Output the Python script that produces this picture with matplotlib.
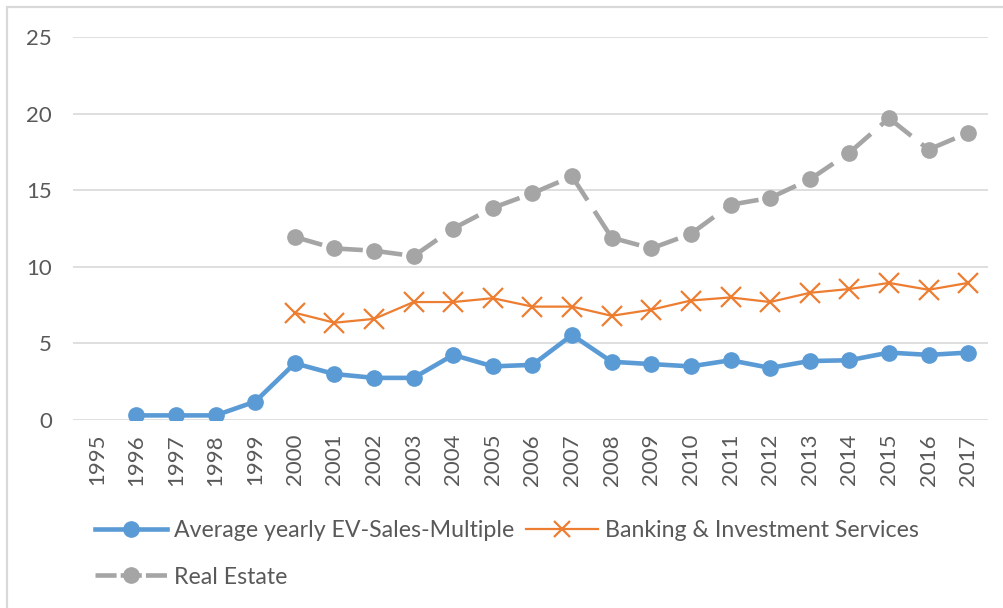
import matplotlib
matplotlib.use("Agg")
import matplotlib.pyplot as plt
from matplotlib.lines import Line2D
from matplotlib.patches import Rectangle
import numpy as np

years = [str(y) for y in range(1995, 2018)]

ev_sales = [np.nan, 0.3, 0.3, 0.3, 1.2, 3.7, 3.0, 2.75, 2.75, 4.25, 3.5, 3.6,
            5.55, 3.8, 3.65, 3.5, 3.9, 3.4, 3.85, 3.9, 4.4, 4.25, 4.4]
banking = [np.nan] * 5 + [7.0, 6.35, 6.6, 7.7, 7.7, 7.95, 7.4, 7.4, 6.8, 7.2,
                          7.8, 8.0, 7.7, 8.3, 8.55, 8.95, 8.5, 8.95]
real_estate = [np.nan] * 5 + [11.95, 11.2, 11.05, 10.7, 12.5, 13.85, 14.8, 15.9,
                              11.9, 11.2, 12.15, 14.05, 14.5, 15.7, 17.45, 19.7,
                              17.65, 18.75]

labels = ["Average yearly EV-Sales-Multiple", "Banking & Investment Services",
          "Real Estate"]

BLUE = "#5B9BD5"
ORANGE = "#ED7D31"
GREY = "#A5A5A5"
TEXT = "#595959"
GRID = "#D9D9D9"

plt.rcParams["font.family"] = ["Lato", "DejaVu Sans"]

fig = plt.figure(figsize=(10.04, 6.08), dpi=100)
ax = fig.add_axes([73 / 1004, 188 / 608, 915 / 1004, 383 / 608])

x = np.arange(len(years))

ax.plot(x, ev_sales, color=BLUE, lw=3.3, marker="o", ms=11, zorder=3)
ax.plot(x, banking, color=ORANGE, lw=1.6, marker="x", ms=15, mew=1.6, zorder=3)

# dashed grey line: restart the dash pattern at every point
re = np.array(real_estate)
for i in range(len(x) - 1):
    if np.isnan(re[i]) or np.isnan(re[i + 1]):
        continue
    ax.plot(x[i:i + 2], re[i:i + 2], color=GREY, lw=3.3,
            dashes=(6.2, 2.8), dash_capstyle="butt", zorder=2)
ax.plot(x, re, color=GREY, lw=0, marker="o", ms=11, zorder=3)

ax.set_xlim(-0.6, 22.5)
ax.set_ylim(0, 25)
ax.set_yticks([0, 5, 10, 15, 20, 25])
ax.set_xticks(x)
ax.set_xticklabels(years, rotation=90)
ax.yaxis.grid(True, color=GRID, lw=1.2)
ax.set_axisbelow(True)
for s in ax.spines.values():
    s.set_visible(False)
ax.tick_params(axis="both", length=0, labelcolor=TEXT, labelsize=16)
ax.tick_params(axis="y", pad=15)
ax.tick_params(axis="x", pad=10)

handles = [
    Line2D([], [], color=BLUE, lw=3.3, marker="o", ms=11),
    Line2D([], [], color=GREY, lw=3.3, marker="o", ms=11, dashes=(4.6, 0.9)),
    Line2D([], [], color=ORANGE, lw=1.6, marker="x", ms=11, mew=1.6),
]
fig.legend(handles, [labels[0], labels[2], labels[1]], ncol=2,
           loc="upper left", bbox_to_anchor=(95 / 1004, 1 - 520 / 608),
           frameon=False, fontsize=16.7, labelcolor=TEXT, handlelength=3.1,
           handletextpad=0.3, columnspacing=0.5, labelspacing=1.1,
           borderaxespad=0, borderpad=0)

# outer chart frame
fig.add_artist(Rectangle((7 / 1004, -0.1), 1.2, 1.1 - 7 / 608,
                         transform=fig.transFigure, fill=False,
                         edgecolor=GRID, lw=1.6))

fig.savefig("out.png", dpi=100)
